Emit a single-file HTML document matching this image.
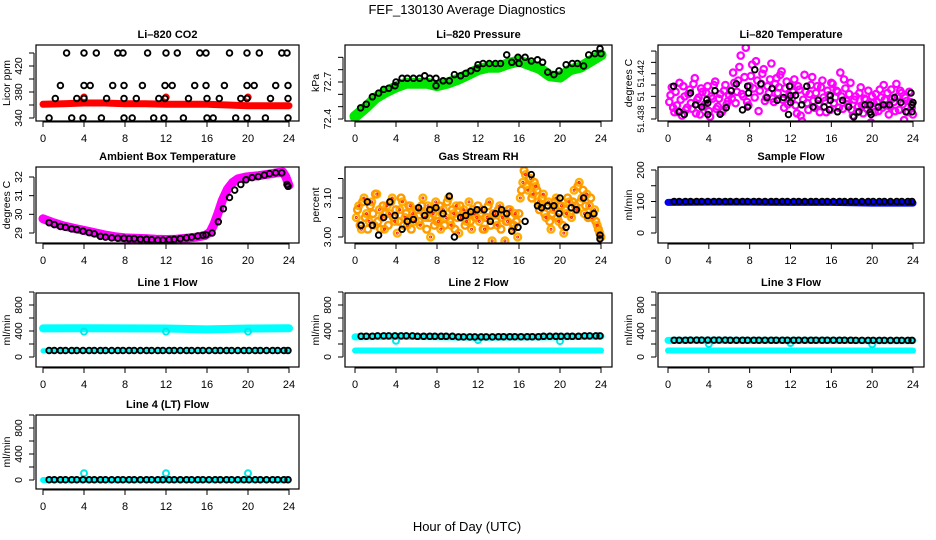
<!DOCTYPE html>
<html><head><meta charset="utf-8"><title>FEF_130130 Average Diagnostics</title>
<style>
html,body{margin:0;padding:0;background:#fff;}
svg{display:block;font-family:"Liberation Sans",Arial,sans-serif;}
</style></head>
<body>
<svg id="chart" width="936" height="540" viewBox="0 0 936 540" xmlns="http://www.w3.org/2000/svg">
<text x="467" y="14" font-size="13" text-anchor="middle">FEF_130130  Average Diagnostics</text>
<text x="467" y="531" font-size="13" text-anchor="middle">Hour of Day (UTC)</text>
</svg>
<script>
// ---------- data ----------
const xTicks = [0,4,8,12,16,20,24];

const co2HiTimes = [2.3,4.0,5.2,7.3,7.8,10.2,12.0,13.1,15.3,15.9,18.2,19.9,21.1,23.3,23.8];
const co2HiVals  = [440,440,440,440,440,440,440,440,440,440,440,440,440,440,440];
const co2M1Times = [1.7,4.0,4.6,6.8,7.9,9.7,11.9,12.6,14.8,15.9,17.7,19.9,20.6,22.7,23.9];
const co2M1Vals  = [390,390,390,390,390,390,390,390,390,390,390,390,390,390,390];
const co2M2Times = [1.2,3.3,4.0,6.2,7.9,9.1,11.3,11.9,14.2,16.0,17.2,19.3,19.9,22.2,23.9];
const co2M2Vals  = [370,370,370,370,370,370,370,370,370,370,370,370,370,370,370];
const co2LoTimes = [0.6,2.8,3.9,5.7,7.9,8.7,10.8,11.8,13.7,16.0,16.6,18.8,19.9,21.7,23.9];
const co2LoVals  = [340,340,340,340,340,340,340,340,340,340,340,340,340,340,340];
const co2BandTimes = [0,2,4,6,8,10,12,14,16,18,20,22,24];
const co2BandVals  = [361,362,363,363,362,362,361,361,361,360,359,359,359];
const co2SpikeTimes = [4,12,20];
const co2SpikeVals  = [372,372,372];

const presBandTimes = [0,1,2,3,4,5,6,7,8,9,10,11,12,13,14,15,16,17,18,19,20,21,22,23,24];
const presBandVals  = [72.42,72.49,72.57,72.62,72.66,72.69,72.69,72.69,72.67,72.69,72.72,72.76,72.80,72.82,72.82,72.85,72.87,72.84,72.81,72.75,72.74,72.80,72.82,72.87,72.92];
const presTimes = [0.55,1.1,1.7,2.3,2.8,3.3,3.9,4.0,4.6,5.1,5.7,6.3,6.8,7.3,7.9,7.9,8.6,9.2,9.7,10.3,10.8,11.3,11.9,12.0,12.5,13.1,13.7,14.2,14.8,15.3,15.9,16.0,16.6,17.2,17.8,18.3,18.8,19.4,19.9,20.6,21.2,21.7,22.3,22.8,23.4,23.9,24.0];
const presVals  = [72.49,72.52,72.58,72.61,72.64,72.65,72.67,72.70,72.73,72.73,72.73,72.73,72.75,72.73,72.73,72.67,72.71,72.71,72.76,72.75,72.77,72.79,72.81,72.84,72.85,72.85,72.85,72.85,72.92,72.86,72.90,72.85,72.90,72.87,72.88,72.86,72.78,72.76,72.79,72.84,72.85,72.85,72.83,72.92,72.93,72.97,72.93];

const tempRawVals = [
51.4395,51.4408,51.4386,51.4392,51.4412,51.4383,51.4400,51.4390,51.4406,51.4389,51.4416,51.4397,51.4384,51.4404,51.4393,51.4409,51.4382,51.4398,51.4413,51.4391,51.4402,51.4388,51.4410,51.4396,
51.4405,51.4421,51.4394,51.4414,51.4436,51.4400,51.4443,51.4392,51.4418,51.4407,51.4431,51.4387,51.4411,51.4424,51.4399,51.4403,51.4429,51.4395,51.4416,51.4408,51.4422,51.4390,51.4413,51.4401,
51.4398,51.4415,51.4385,51.4406,51.4378,51.4419,51.4394,51.4402,51.4417,51.4390,51.4409,51.4386,51.4414,51.4396,51.4405,51.4388,51.4411,51.4399,51.4404,51.4421,51.4389,51.4407,51.4393,51.4412,
51.4383,51.4400,51.4391,51.4408,51.4385,51.4397,51.4405,51.4377,51.4394,51.4402,51.4387,51.4399,51.4410,51.4392,51.4384,51.4406,51.4395,51.4411,51.4388,51.4403,51.4379,51.4396,51.4404,51.4390];
const tempRaw2Vals = [
51.4401,51.4390,51.4404,51.4386,51.4397,51.4409,51.4388,51.4402,51.4394,51.4411,51.4385,51.4399,51.4407,51.4391,51.4403,51.4387,51.4400,51.4410,51.4389,51.4398,51.4386,51.4405,51.4393,51.4401,
51.4398,51.4412,51.4404,51.4426,51.4402,51.4417,51.4395,51.4409,51.4428,51.4399,51.4414,51.4405,51.4420,51.4396,51.4409,51.4415,51.4398,51.4411,51.4403,51.4419,51.4397,51.4407,51.4393,51.4409,
51.4404,51.4392,51.4409,51.4383,51.4397,51.4404,51.4388,51.4410,51.4396,51.4403,51.4393,51.4408,51.4399,51.4386,51.4401,51.4412,51.4394,51.4405,51.4390,51.4400,51.4415,51.4396,51.4402,51.4388,
51.4397,51.4386,51.4403,51.4392,51.4398,51.4389,51.4392,51.4400,51.4386,51.4395,51.4406,51.4390,51.4397,51.4403,51.4391,51.4398,51.4387,51.4400,51.4405,51.4393,51.4399,51.4386,51.4395,51.4384];
const tempAvgTimes = [0.55,1.1,1.6,2.2,2.7,3.3,3.8,3.9,3.9,4.6,5.1,5.7,6.2,6.7,7.3,7.8,7.8,7.9,8.5,9.1,9.7,10.2,10.7,11.3,11.8,11.9,12.0,12.0,12.5,13.1,13.6,14.2,14.7,15.3,15.8,15.9,15.9,16.6,17.1,17.7,18.2,18.7,19.3,19.8,19.8,19.9,20.6,21.1,21.7,22.2,22.8,23.3,23.8,23.9,23.9,24.0];
const tempAvgVals  = [51.4409,51.43864,51.4384,51.4403,51.43925,51.43906,51.4397,51.4394,51.4384,51.4405,51.43842,51.4390,51.4405,51.4411,51.4388,51.4409,51.43906,51.4403,51.44235,51.4411,51.4399,51.4407,51.43965,51.4399,51.4384,51.4409,51.44007,51.43946,51.4401,51.43925,51.4409,51.43906,51.43965,51.43906,51.43882,51.44007,51.43965,51.43864,51.43965,51.43906,51.43819,51.43864,51.43925,51.43925,51.4386,51.4384,51.43906,51.43925,51.43925,51.4399,51.43946,51.43864,51.4403,51.43925,51.43864,51.43946];

const ambTimes = [0,1,2,3,4,5,6,7,8,9,10,11,12,13,14,15,15.8,16.3,16.7,17.1,17.5,18.0,18.5,19.0,19.8,21.0,22.0,23.0,23.4,23.7,24.0];
const ambVals  = [29.76,29.55,29.38,29.25,29.14,29.02,28.90,28.80,28.74,28.72,28.70,28.66,28.65,28.67,28.72,28.78,28.86,29.05,29.5,30.1,30.76,31.35,31.7,31.9,32.0,32.07,32.15,32.24,32.26,32.0,31.55];
const ambAvgTimes = [0.6,1.1,1.7,2.2,2.8,3.3,3.9,4.5,5.0,5.6,6.1,6.7,7.3,7.9,8.4,8.9,9.5,10.1,10.6,11.2,11.7,12.3,12.8,13.4,14.0,14.5,15.1,15.6,15.9,16.5,17.1,17.6,18.2,18.7,19.3,19.8,20.4,21.0,21.6,22.1,22.7,23.3,23.8,23.9];
const ambAvgVals  = [29.55,29.45,29.35,29.3,29.22,29.18,29.1,29.02,28.95,28.82,28.78,28.74,28.72,28.72,28.70,28.70,28.67,28.66,28.64,28.62,28.62,28.64,28.66,28.70,28.74,28.78,28.84,28.88,28.9,29.0,29.6,30.3,30.9,31.3,31.6,31.85,31.97,32.02,32.1,32.18,32.22,32.22,31.6,31.5];

const rhRawVals = [
3.05,3.08,3.02,3.10,3.06,3.04,3.09,3.03,3.11,3.07,3.05,3.02,3.08,3.06,3.10,3.04,3.01,3.07,3.09,3.05,3.03,3.08,3.06,3.04,
3.07,3.03,3.10,3.05,3.08,3.00,3.06,3.09,3.04,3.02,3.07,3.05,3.10,3.03,3.06,3.08,3.01,3.05,3.07,3.04,3.09,3.02,3.06,3.05,
3.04,3.07,3.02,3.05,3.09,2.99,3.06,3.03,3.08,3.05,2.99,3.04,3.07,3.02,3.06,3.00,3.10,3.14,3.16,3.12,3.15,3.11,3.13,3.09,
3.08,3.11,3.05,3.09,3.02,3.07,3.10,3.04,3.08,3.01,3.06,3.09,3.05,3.12,3.07,3.14,3.10,3.06,3.11,3.08,3.05,3.07,3.03,3.01];
const rhRaw2Vals = [
3.07,3.03,3.09,3.05,3.02,3.08,3.06,3.11,3.04,3.02,3.08,3.06,3.03,3.09,3.05,3.07,3.04,3.10,3.03,3.06,3.08,3.02,3.05,3.07,
3.04,3.08,3.06,3.02,3.05,3.07,3.03,3.04,3.08,3.06,3.03,3.09,3.04,3.07,3.02,3.05,3.08,3.06,3.03,3.06,3.04,3.07,3.05,3.08,
3.06,3.02,3.05,3.08,3.03,3.06,3.04,3.07,3.02,3.06,3.04,3.07,3.05,3.03,3.04,3.06,3.12,3.17,3.13,3.15,3.10,3.14,3.12,3.07,
3.10,3.06,3.08,3.04,3.06,3.09,3.05,3.08,3.03,3.07,3.10,3.06,3.09,3.08,3.13,3.09,3.12,3.08,3.05,3.10,3.06,3.04,3.02,3.00];
const rhAvgTimes = [0.6,1.2,1.7,2.3,2.8,3.4,3.9,4.6,5.1,5.7,6.2,6.8,7.3,7.9,8.6,9.2,9.7,10.3,10.8,11.3,11.9,12.6,13.2,13.7,14.3,14.8,15.3,15.9,16.6,17.2,17.8,18.2,18.8,19.4,19.9,20.0,20.6,21.1,21.6,22.3,22.7,23.3,23.9,23.9];
const rhAvgVals  = [3.03,3.09,3.03,3.005,3.05,3.09,3.055,3.02,3.04,3.045,3.075,3.055,3.07,3.075,3.06,3.105,3.00,3.05,3.055,3.065,3.07,3.07,3.04,3.06,3.07,3.06,3.015,3.025,3.04,3.16,3.08,3.075,3.08,3.08,3.06,3.10,3.025,3.075,3.07,3.10,3.055,3.06,3.005,2.995];

const avgTimes = [0.6,1.1,1.7,2.2,2.8,3.3,3.9,4.5,5.0,5.6,6.1,6.7,7.3,7.8,8.4,8.9,9.5,10.1,10.6,11.2,11.7,12.3,12.8,13.4,14.0,14.5,15.1,15.6,16.2,16.8,17.3,17.9,18.4,19.0,19.6,20.1,20.7,21.2,21.8,22.4,22.9,23.5,23.9];

const flowTimes = [0,4,8,12,16,20,24];
const sampleBandVals = [97,98,98,97,97,95,95];
const sampleAvgVal = [100,101,101,102,101,99,100];

const line1HiVals = [440,442,440,438,425,438,442];
const line1LoVals = [95,95,95,95,95,95,95];
const line1AvgVals = [100,100,100,100,100,100,100];
const line2HiVals = [310,318,312,305,308,312,320];
const line2LoVals = [100,100,100,100,100,100,100];
const line2AvgVals = [320,325,318,310,312,318,325];
const line3HiVals = [255,258,256,256,255,252,252];
const line3LoVals = [100,100,100,100,100,100,100];
const line3AvgVals = [258,260,258,258,258,256,256];
const line4LoVals = [0,0,0,0,0,0,0];
const line4AvgVals = [5,5,5,5,5,5,5];
const dipTimes = [4,12,20];
const line1DipVals = [390,390,390];
const line2DipVals = [250,260,245];
const line3DipVals = [200,215,195];
const line4DipVals = [105,105,105];

// ---------- layout ----------
const svg = document.getElementById('chart');
const NS = 'http://www.w3.org/2000/svg';
const COLS = [{l:36,r:299,t0:43,t24:289},{l:345,r:612,t0:355,t24:601},{l:658,r:924,t0:668,t24:913}];
const ROWS = [{t:45,b:121},{t:167,b:243},{t:293,b:367},{t:415,b:489}];

function mk(tag, attrs, parent){
  const e = document.createElementNS(NS, tag);
  for (const k in attrs) e.setAttribute(k, attrs[k]);
  (parent||svg).appendChild(e);
  return e;
}

function makePanel(name, col, row, title, ylabel, cal, ticks, labels, lblSize){
  const C = COLS[col], R = ROWS[row];
  const fs = lblSize || 10.5;
  const g = mk('g', {});
  
  
  const xs = t => C.t0 + (C.t24 - C.t0) * t / 24;
  const ys = v => cal[1] + (v - cal[0]) * (cal[3] - cal[1]) / (cal[2] - cal[0]);
  const p = {g, xs, ys, C, R};
  const tt = mk('text', {x:(C.l+C.r)/2, y:R.t-7, 'font-size':11, 'font-weight':'bold', 'text-anchor':'middle'}, g);
  tt.textContent = title;
  
  
  const yl = mk('text', {x:0, y:0, 'font-size':10.5, 'text-anchor':'middle', transform:`translate(${C.l-26},${(R.t+R.b)/2}) rotate(-90)`}, g);
  yl.textContent = ylabel;
  
  
  const xa = mk('g', {}, g);
  
  
  mk('line', {x1:xs(0), x2:xs(24), y1:R.b+1, y2:R.b+1, stroke:'#000', 'stroke-width':1}, xa);
  xTicks.forEach(t => {
    mk('line', {x1:xs(t), x2:xs(t), y1:R.b, y2:R.b+6, stroke:'#000', 'stroke-width':1}, xa);
    const lb = mk('text', {x:xs(t), y:R.b+21, 'font-size':11, 'text-anchor':'middle'}, xa);
    lb.textContent = String(t);
    
    
  });
  const ya = mk('g', {}, g);
  
  
  const ax = C.l - 2;
  mk('line', {x1:ax, x2:ax, y1:ys(ticks[0]), y2:ys(ticks[ticks.length-1]), stroke:'#000', 'stroke-width':1}, ya);
  ticks.forEach((v,i) => {
    mk('line', {x1:ax-5, x2:ax, y1:ys(v), y2:ys(v), stroke:'#000', 'stroke-width':1}, ya);
    if (labels[i]) {
      const lb = mk('text', {x:0, y:0, 'font-size':fs, 'text-anchor':'middle', transform:`translate(${C.l-14},${ys(v)}) rotate(-90)`}, ya);
      lb.textContent = labels[i];
      
      
    }
  });
  const clipId = 'clip-' + name;
  const cp = mk('clipPath', {id:clipId}, g);
  mk('rect', {x:C.l, y:R.t, width:C.r-C.l, height:R.b-R.t}, cp);
  p.plot = mk('g', {'clip-path':`url(#${clipId})`}, g);
  
  
  const box = mk('rect', {x:C.l, y:R.t, width:C.r-C.l, height:R.b-R.t, fill:'none', stroke:'#000', 'stroke-width':1.2}, g);
  
  
  return p;
}

function band(p, times, vals, color, w, nm){
  const pts = times.map((t,i) => p.xs(t).toFixed(1) + ',' + p.ys(vals[i]).toFixed(1)).join(' ');
  const pl = mk('polyline', {points:pts, fill:'none', stroke:color, 'stroke-width':w, 'stroke-linecap':'round', 'stroke-linejoin':'round'}, p.plot);
  
  
}
function pts(p, times, vals, color, r, sw, nm){
  const g = mk('g', {}, p.plot);
  
  
  times.forEach((t,i) => {
    const c = mk('circle', {cx:p.xs(t).toFixed(1), cy:p.ys(vals[i]).toFixed(1), r:r, fill:'none', stroke:color, 'stroke-width':sw}, g);
    
    
  });
}
function fill(n, v){ return Array.from({length:n}, () => v); }
function rawTimes(n, off){ return Array.from({length:n}, (_,i) => 24 * (i + 0.5) / n + (off||0)); }

const BR = 2.8, BW = 1.9;
// CO2
let p = makePanel('co2', 0, 0, 'Li–820 CO2', 'Licor ppm', [340,118,420,66], [340,360,380,400,420,440], ['340','','380','','420','']);
band(p, co2BandTimes, co2BandVals, '#ff0000', 7, 'co2-raw-series');
pts(p, co2SpikeTimes, co2SpikeVals, '#ff0000', 2.8, 1.8, 'co2-raw-outliers');
pts(p, co2HiTimes, co2HiVals, '#000', BR, BW, 'co2-average-440');
pts(p, co2M1Times, co2M1Vals, '#000', BR, BW, 'co2-average-390');
pts(p, co2M2Times, co2M2Vals, '#000', BR, BW, 'co2-average-370');
pts(p, co2LoTimes, co2LoVals, '#000', BR, BW, 'co2-average-340');

// Pressure
p = makePanel('pressure', 1, 0, 'Li–820 Pressure', 'kPa', [72.4,119,72.7,82], [72.4,72.5,72.6,72.7,72.8,72.9], ['72.4','','','72.7','','']);
band(p, presBandTimes, presBandVals, '#00e600', 11, 'pressure-raw-series');
pts(p, presTimes, presVals, '#000', BR, BW, 'pressure-average-points');

// Li-820 temperature
p = makePanel('li820-temp', 2, 0, 'Li–820 Temperature', 'degrees C', [51.438,119,51.442,73.7], [51.438,51.439,51.440,51.441,51.442,51.443,51.444], ['51.438','','51','','51.442','',''], 9);
pts(p, rawTimes(tempRawVals.length), tempRawVals, '#ff00ff', 3.2, 2.2, 'li820-temp-raw-points');
pts(p, rawTimes(tempRaw2Vals.length, 0.12), tempRaw2Vals, '#ff00ff', 3.2, 2.2, 'li820-temp-raw-points-2');
pts(p, tempAvgTimes, tempAvgVals, '#000', BR, BW, 'li820-temp-average-points');

// Ambient
p = makePanel('ambient-temp', 0, 1, 'Ambient Box Temperature', 'degrees C', [29,233,32,177], [29,30,31,32], ['29','30','31','32']);
band(p, ambTimes, ambVals, '#ff00ff', 9, 'ambient-temp-raw-series');
pts(p, ambAvgTimes, ambAvgVals, '#000', BR, BW, 'ambient-temp-average-points');

// RH
p = makePanel('gas-rh', 1, 1, 'Gas Stream RH', 'percent', [3.00,237,3.10,198], [3.00,3.05,3.10,3.15], ['3.00','','3.10','']);
pts(p, rawTimes(rhRawVals.length), rhRawVals, '#ffb000', 3.4, 2.4, 'gas-rh-raw-points');
pts(p, rawTimes(rhRaw2Vals.length, 0.12), rhRaw2Vals, '#ff9900', 3.4, 2.4, 'gas-rh-raw-points-2');
pts(p, rawTimes(rhRawVals.length), rhRawVals, '#ff2000', 1, 1, 'gas-rh-raw-centers');
pts(p, rhAvgTimes, rhAvgVals, '#000', BR, BW, 'gas-rh-average-points');

// Sample flow
p = makePanel('sample-flow', 2, 1, 'Sample Flow', 'ml/min', [0,233,200,170], [0,50,100,150,200], ['0','','100','','200']);
band(p, flowTimes, sampleBandVals, '#0000ee', 7, 'sample-flow-raw-series');
pts(p, avgTimes, fill(avgTimes.length, sampleAvgVal[0]), '#000', BR, BW, 'sample-flow-average-points');

const flowTicks = [0,200,400,600,800,1000];
const flowLabels = ['0','','400','','800',''];
p = makePanel('line1-flow', 0, 2, 'Line 1 Flow', 'ml/min', [0,357,800,305], flowTicks, flowLabels);
band(p, flowTimes, line1HiVals, '#00ffff', 8, 'line1-flow-raw-high');
band(p, flowTimes, line1LoVals, '#00ffff', 5, 'line1-flow-raw-low');
pts(p, dipTimes, line1DipVals, '#00e8e8', 3, 2, 'line1-flow-dips');
pts(p, avgTimes, fill(avgTimes.length, line1AvgVals[0]), '#000', BR, BW, 'line1-flow-average-points');

p = makePanel('line2-flow', 1, 2, 'Line 2 Flow', 'ml/min', [0,357,800,305], flowTicks, flowLabels);
band(p, flowTimes, line2HiVals, '#00ffff', 7, 'line2-flow-raw-high');
band(p, flowTimes, line2LoVals, '#00ffff', 6, 'line2-flow-raw-low');
pts(p, dipTimes, line2DipVals, '#00e8e8', 3, 2, 'line2-flow-dips');
pts(p, avgTimes, avgTimes.map(t => line2AvgVals[Math.min(6, Math.round(t/4))]), '#000', BR, BW, 'line2-flow-average-points');

p = makePanel('line3-flow', 2, 2, 'Line 3 Flow', 'ml/min', [0,357,800,305], flowTicks, flowLabels);
band(p, flowTimes, line3HiVals, '#00ffff', 7, 'line3-flow-raw-high');
band(p, flowTimes, line3LoVals, '#00ffff', 6, 'line3-flow-raw-low');
pts(p, dipTimes, line3DipVals, '#00e8e8', 3, 2, 'line3-flow-dips');
pts(p, avgTimes, avgTimes.map(t => line3AvgVals[Math.min(6, Math.round(t/4))]), '#000', BR, BW, 'line3-flow-average-points');

p = makePanel('line4-flow', 0, 3, 'Line 4 (LT) Flow', 'ml/min', [0,480,800,428], flowTicks, flowLabels);
band(p, flowTimes, line4LoVals, '#00ffff', 6, 'line4-flow-raw');
pts(p, dipTimes, line4DipVals, '#00e8e8', 3, 2, 'line4-flow-spikes');
pts(p, avgTimes, fill(avgTimes.length, line4AvgVals[0]), '#000', BR, BW, 'line4-flow-average-points');
</script>
</body></html>
